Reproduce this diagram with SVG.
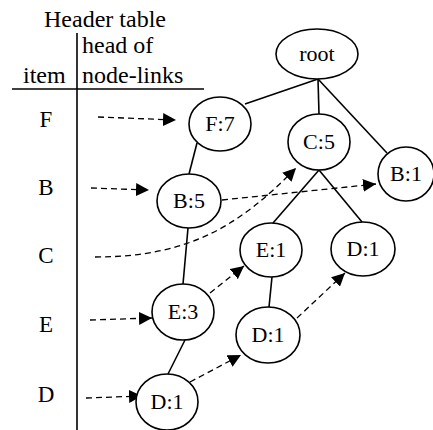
<svg xmlns="http://www.w3.org/2000/svg" width="433" height="430" viewBox="0 0 433 430" font-family="'Liberation Serif', 'Times New Roman', serif" font-size="22">
<style>
text{font-family:"Liberation Serif","Times New Roman",serif;fill:#000}
.n text{text-anchor:middle;font-size:22px}
.n ellipse{fill:#fff;stroke:#000;stroke-width:1.6}
.e{stroke:#000;stroke-width:1.6;fill:none}
.d{stroke:#000;stroke-width:1.3;fill:none;stroke-dasharray:6 4;marker-end:url(#ah)}
.h{font-size:24px}
.l{font-size:23px;text-anchor:middle}
</style>
<defs>
<marker id="ah" viewBox="0 0 10 10" refX="10" refY="5" markerWidth="13" markerHeight="13" markerUnits="userSpaceOnUse" orient="auto">
<path d="M0,0 L10,5 L0,10 z" fill="#000"/>
</marker>
</defs>
<g id="header">
<text class="h" x="105" y="27" text-anchor="middle">Header table</text>
<text class="h" x="82" y="53">head of</text>
<text class="h" x="23" y="83">item</text>
<text class="h" x="82" y="83">node-links</text>
<line x1="12" y1="89" x2="204" y2="89" stroke="#000" stroke-width="1.6"/>
<line x1="77" y1="33" x2="77" y2="430" stroke="#000" stroke-width="1.6"/>
<text class="l" x="46" y="127">F</text>
<text class="l" x="46" y="195">B</text>
<text class="l" x="46" y="263">C</text>
<text class="l" x="46" y="332">E</text>
<text class="l" x="46" y="402">D</text>
</g>
<g id="connectors">
<line class="e" x1="318" y1="79" x2="245" y2="104"/>
<line class="e" x1="318" y1="79" x2="319" y2="114"/>
<line class="e" x1="318" y1="79" x2="387" y2="153"/>
<line class="e" x1="197" y1="143" x2="189" y2="174"/>
<line class="e" x1="188" y1="228" x2="183" y2="284"/>
<line class="e" x1="185" y1="340" x2="168" y2="374"/>
<line class="e" x1="319" y1="170" x2="273" y2="223"/>
<line class="e" x1="319" y1="170" x2="362" y2="222"/>
<line class="e" x1="272" y1="277" x2="269" y2="307"/>
<path class="d" d="M98,117 L176,120"/>
<path class="d" d="M91,188 L149,190"/>
<path class="d" d="M95,257 C190,257 240,225 296,168"/>
<path class="d" d="M222,200 L376,184"/>
<path class="d" d="M90,320 L152,318"/>
<path class="d" d="M210,293 L244,266"/>
<path class="d" d="M86,398 L142,396"/>
<path class="d" d="M190,382 L241,355"/>
<path class="d" d="M297,318 L345,273"/>
</g>
<g id="root" class="n"><ellipse cx="317" cy="54" rx="41" ry="25"/><text x="317" y="61">root</text></g>
<g id="F7" class="n"><ellipse cx="220" cy="124" rx="31" ry="27"/><text x="220" y="131">F:7</text></g>
<g id="C5" class="n"><ellipse cx="319" cy="142" rx="31" ry="28"/><text x="319" y="149">C:5</text></g>
<g id="B1" class="n"><ellipse cx="406" cy="174" rx="28" ry="27"/><text x="406" y="181">B:1</text></g>
<g id="B5" class="n"><ellipse cx="189" cy="201" rx="32" ry="27"/><text x="189" y="208">B:5</text></g>
<g id="E1" class="n"><ellipse cx="271" cy="250" rx="31" ry="27"/><text x="271" y="257">E:1</text></g>
<g id="D1r" class="n"><ellipse cx="363" cy="249" rx="32" ry="27"/><text x="363" y="256">D:1</text></g>
<g id="E3" class="n"><ellipse cx="183" cy="312" rx="31" ry="28"/><text x="183" y="319">E:3</text></g>
<g id="D1m" class="n"><ellipse cx="268" cy="335" rx="32" ry="28"/><text x="268" y="342">D:1</text></g>
<g id="D1b" class="n"><ellipse cx="167" cy="402" rx="31" ry="28"/><text x="167" y="409">D:1</text></g>
</svg>
